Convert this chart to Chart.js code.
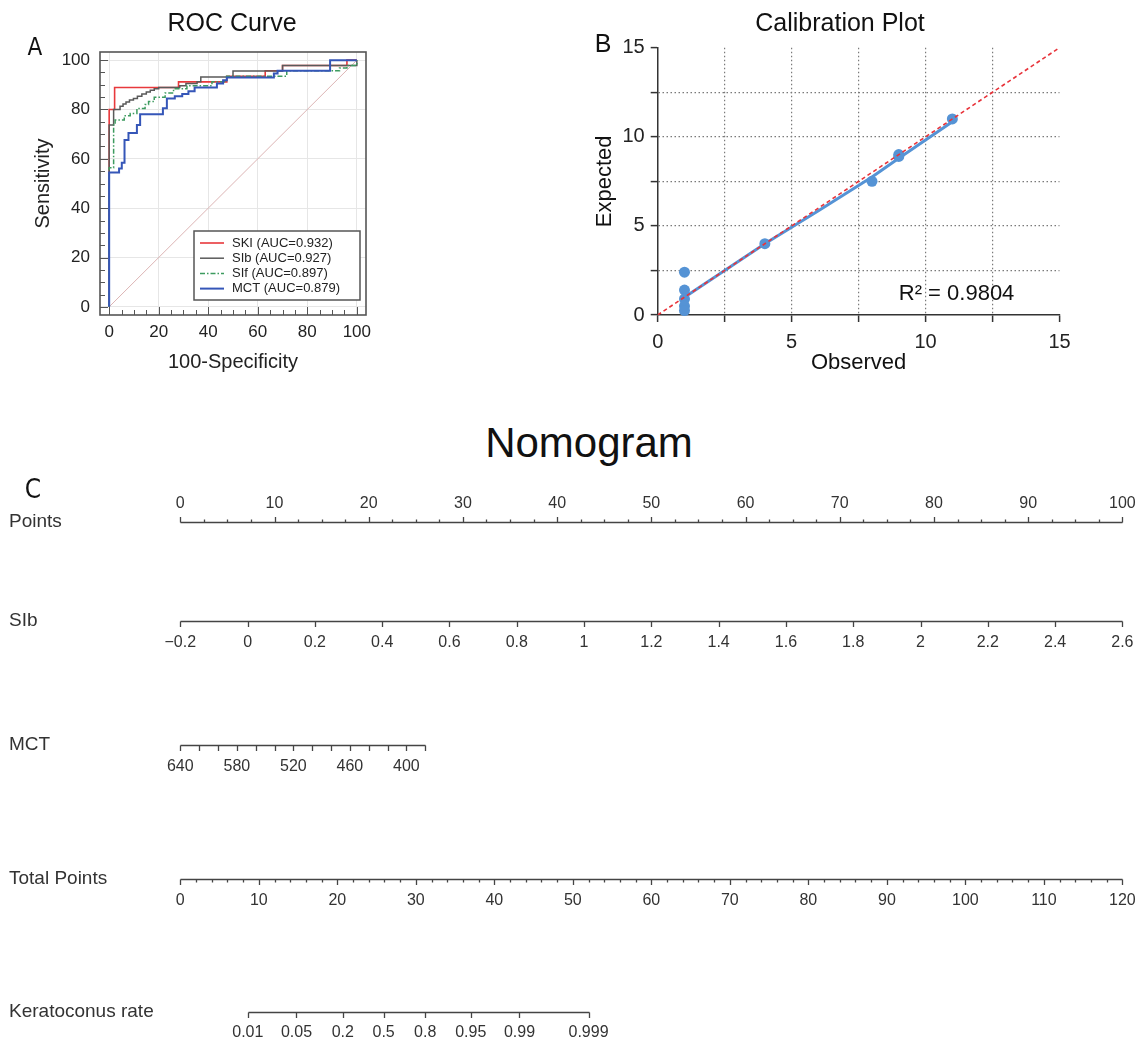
<!DOCTYPE html>
<html>
<head>
<meta charset="utf-8">
<script src="https://cdn.jsdelivr.net/npm/chart.js@4.4.1/dist/chart.umd.min.js"></script>
<style>
  body { margin: 0; background: #fff; }
  #page { position: relative; width: 1137px; height: 1040px; overflow: hidden; background: #fff;
          font-family: 'Liberation Sans', Arial, sans-serif; }
  canvas { position: absolute; }
  .txt { position: absolute; transform: translate(-50%, -50%); line-height: 1; white-space: nowrap; color: #111; }
  .letter { font-family: 'Liberation Sans Narrow', 'DejaVu Sans Condensed', 'Liberation Sans', sans-serif; }
</style>
</head>
<body>
<div id="page">
  <canvas id="rocChart" width="380" height="385" style="left:0;top:0"></canvas>
  <canvas id="calChart" width="577" height="385" style="left:560px;top:0"></canvas>
  <canvas id="nomoChart" width="1137" height="570" style="left:0;top:470px"></canvas>

  <div class="txt" style="left:232px;top:22px;font-size:25px">ROC Curve</div>
  <div class="txt" style="left:840px;top:22px;font-size:25px">Calibration Plot</div>
  <div class="txt" style="left:589px;top:443px;font-size:42px">Nomogram</div>
  <div class="txt letter" style="left:35px;top:47px;font-size:24px">A</div>
  <div class="txt" style="left:603px;top:43px;font-size:25px">B</div>
  <div class="txt letter" style="left:33px;top:489px;font-size:26px">C</div>
</div>

<script>
// ---- ROC curves: 100-Specificity (x) / Sensitivity (y), step corners ----
const skiFpr  = [0, 0, 2.2, 28, 47.5, 63, 70, 96, 100];
const skiSens = [0, 80, 88.9, 91.2, 93.5, 95.7, 97.8, 100, 100];

const sibFpr  = [0, 0, 1.8, 4.4, 5.6, 6.8, 8.2, 9.8, 11.4, 13.2, 15.0, 16.6, 18.2, 20, 28.5, 31, 35.5, 37, 50, 70, 100, 100];
const sibSens = [0, 73.7, 80, 81.3, 82.2, 83.0, 83.8, 84.5, 85.4, 86.3, 87.1, 87.8, 88.4, 88.9, 89.6, 90.5, 91.2, 93.2, 95.6, 97.8, 97.8, 100];

const sifFpr  = [0, 0, 1.8, 2.4, 6.1, 8.5, 11.2, 14.5, 15.9, 18.2, 22.6, 26, 31.4, 41.5, 47.4, 71.7, 93, 96, 100];
const sifSens = [0, 56.4, 73.7, 75.7, 77.5, 78.4, 80.4, 82, 83.2, 85, 86.7, 88.4, 89.6, 91.2, 93.5, 95.7, 96.8, 97.8, 100];

const mctFpr  = [0, 0, 4.0, 5.1, 6.2, 7.8, 11.2, 12.5, 21.7, 23.3, 26.5, 29.5, 32, 34.5, 43.5, 46, 47.5, 66.5, 68, 89.2, 100];
const mctSens = [0, 54.5, 56.1, 58.4, 67.6, 70.5, 73.7, 78.1, 80.5, 84.5, 85.4, 86.3, 87.4, 88.9, 90.5, 91.9, 93.0, 94.6, 95.7, 100, 100];

const rocLabels = ['SKI (AUC=0.932)', 'SIb (AUC=0.927)', 'SIf (AUC=0.897)', 'MCT (AUC=0.879)'];
const rocTicks = [0, 20, 40, 60, 80, 100];

// ---- calibration ----
const calObserved = [1, 1, 1, 1, 1, 4, 8, 9, 9, 11];
const calExpected = [2.4, 1.4, 0.9, 0.5, 0.25, 4.0, 7.5, 8.9, 9.0, 11.0];
const fitObserved = [1, 4, 6, 8, 9, 10, 11];
const fitExpected = [1.0, 4.0, 5.85, 7.75, 8.8, 9.82, 10.85];
const calTicks = [0, 2.5, 5, 7.5, 10, 12.5, 15];
const calTickLabels = ['0', '', '5', '', '10', '', '15'];
const rSquared = 'R\u00b2 = 0.9804';

// ---- nomogram ----
const nomoRows = ['Points', 'SIb', 'MCT', 'Total Points', 'Keratoconus rate'];
const pointsTicks = [0, 10, 20, 30, 40, 50, 60, 70, 80, 90, 100];
const sibTicks = [-0.2, 0, 0.2, 0.4, 0.6, 0.8, 1, 1.2, 1.4, 1.6, 1.8, 2, 2.2, 2.4, 2.6];
const sibLabels = ['\u22120.2', '0', '0.2', '0.4', '0.6', '0.8', '1', '1.2', '1.4', '1.6', '1.8', '2', '2.2', '2.4', '2.6'];
const mctTicks = [640, 620, 600, 580, 560, 540, 520, 500, 480, 460, 440, 420, 400, 380];
const mctLabels = ['640', '', '', '580', '', '', '520', '', '', '460', '', '', '400', ''];
const mctAtZeroPoints = 640, mctAtHundredPoints = -360;
const totalTicks = [0, 10, 20, 30, 40, 50, 60, 70, 80, 90, 100, 110, 120];
const rateLabels = ['0.01', '0.05', '0.2', '0.5', '0.8', '0.95', '0.99', '0.999'];
const rateTotalPoints = [8.6, 14.8, 20.7, 25.9, 31.2, 37.0, 43.2, 52.0];

// row layout of the nomogram (fraction of plot height)
const rowSpacing = [0, 0.202, 0.455, 0.729, 1];

Chart.defaults.font.family = '"Liberation Sans", Arial, sans-serif';

const pair = (xs, ys) => xs.map((x, i) => ({ x, y: ys[i] }));
const fixedTicks = values => scale => { scale.ticks = values.map(v => ({ value: v })); };

// ---------------- A: ROC ----------------
const rocFrame = {
    id: 'rocFrame',
    afterDatasetsDraw(chart) {
        const { ctx, chartArea: a, scales: { x, y } } = chart;
        ctx.save();
        ctx.strokeStyle = '#555';
        ctx.lineWidth = 1;
        ctx.beginPath();
        for (let v = 0; v <= 100; v += 5) {
            const len = v % 20 === 0 ? 8 : 5;
            const px = Math.round(x.getPixelForValue(v)) + 0.5;
            const py = Math.round(y.getPixelForValue(v)) + 0.5;
            ctx.moveTo(px, a.bottom); ctx.lineTo(px, a.bottom - len);
            ctx.moveTo(a.left, py); ctx.lineTo(a.left + len, py);
        }
        ctx.stroke();
        ctx.lineWidth = 1.6;
        ctx.strokeRect(a.left, a.top, a.width, a.height);

        // legend box
        const items = chart.data.datasets.filter(d => d.label);
        const w = 166, h = 69;
        const x0 = a.right - 6 - w, y0 = a.bottom - 15 - h;
        ctx.fillStyle = '#fff';
        ctx.fillRect(x0, y0, w, h);
        ctx.lineWidth = 1.5;
        ctx.strokeRect(x0, y0, w, h);
        ctx.font = '13px "Liberation Sans", Arial, sans-serif';
        ctx.textBaseline = 'middle';
        ctx.textAlign = 'left';
        items.forEach((d, i) => {
            const yy = y0 + 12 + i * 15.2;
            ctx.strokeStyle = d.borderColor;
            ctx.lineWidth = d.borderWidth;
            ctx.setLineDash(d.borderDash || []);
            ctx.beginPath();
            ctx.moveTo(x0 + 6, yy); ctx.lineTo(x0 + 30, yy);
            ctx.stroke();
            ctx.setLineDash([]);
            ctx.fillStyle = '#222';
            ctx.fillText(d.label, x0 + 38, yy);
        });
        ctx.restore();
    }
};

const rocSeries = [
    { data: pair(skiFpr, skiSens), color: '#e8393c', width: 1.6, dash: [], order: 4 },
    { data: pair(sibFpr, sibSens), color: '#5a5a5a', width: 1.5, dash: [], order: 3 },
    { data: pair(sifFpr, sifSens), color: '#3d9b5f', width: 1.5, dash: [5, 2, 1.5, 2], order: 2 },
    { data: pair(mctFpr, mctSens), color: '#3556b8', width: 2, dash: [], order: 1 }
];

new Chart(document.getElementById('rocChart'), {
    type: 'scatter',
    data: {
        datasets: [
            ...rocSeries.map((s, i) => ({
                label: rocLabels[i],
                data: s.data,
                showLine: true,
                stepped: true,
                borderColor: s.color,
                borderWidth: s.width,
                borderDash: s.dash,
                pointRadius: 0,
                order: s.order
            })),
            {
                data: pair([0, 100], [0, 100]),
                showLine: true,
                borderColor: '#dcb4b4',
                borderWidth: 1,
                pointRadius: 0,
                order: 5
            }
        ]
    },
    options: {
        animation: false,
        responsive: false,
        devicePixelRatio: 1,
        layout: { padding: { top: 52, right: 14, bottom: 0, left: 0 } },
        plugins: { legend: { display: false }, tooltip: { enabled: false } },
        scales: {
            x: {
                type: 'linear', min: -3.7, max: 103.7,
                afterBuildTicks: fixedTicks(rocTicks),
                afterFit: s => { s.height = 70; },
                grid: { color: '#e6e6e6', drawTicks: false },
                border: { display: false },
                ticks: { padding: 7, color: '#222', font: { size: 17 }, maxRotation: 0 },
                title: { display: true, text: '100-Specificity', color: '#222', font: { size: 20 }, padding: { top: 0, bottom: 11 } }
            },
            y: {
                type: 'linear', min: -3.3, max: 103.3,
                afterBuildTicks: fixedTicks(rocTicks),
                afterFit: s => { s.width = 100; },
                grid: { color: '#e6e6e6', drawTicks: false },
                border: { display: false },
                ticks: { padding: 10, color: '#222', font: { size: 17 } },
                title: { display: true, text: 'Sensitivity', color: '#222', font: { size: 20 }, padding: { top: 31, bottom: 0 } }
            }
        }
    },
    plugins: [rocFrame]
});

// ---------------- B: calibration ----------------
const calNote = {
    id: 'calNote',
    afterDatasetsDraw(chart) {
        const { ctx, scales: { x, y } } = chart;
        ctx.save();
        ctx.font = '22px "Liberation Sans", Arial, sans-serif';
        ctx.fillStyle = '#111';
        ctx.textAlign = 'left';
        ctx.textBaseline = 'middle';
        ctx.fillText(rSquared, x.getPixelForValue(9.0), y.getPixelForValue(1.2));
        ctx.restore();
    }
};

const edgeTick = ctx => ctx.index === 0 || ctx.index === calTicks.length - 1;
const calAxis = (title, extra) => Object.assign({
    type: 'linear', min: 0, max: 15,
    afterBuildTicks: fixedTicks(calTicks),
    grid: {
        color: ctx => edgeTick(ctx) ? 'rgba(0,0,0,0)' : '#7a7a7a',
        lineWidth: 1.2, tickColor: '#333', tickWidth: 1.5, tickLength: 7
    },
    border: { color: '#333', width: 1.5, dash: [1.5, 2.5] },
    ticks: { callback: (v, i) => calTickLabels[i], color: '#222', font: { size: 20 }, autoSkip: false, maxRotation: 0 },
    title: { display: true, text: title, color: '#111', font: { size: 22 } }
}, extra);

new Chart(document.getElementById('calChart'), {
    type: 'scatter',
    data: {
        datasets: [
            {
                data: pair([0, 15], [0, 15]),
                showLine: true, borderColor: '#e8333a', borderWidth: 1.6, borderDash: [4, 3],
                pointRadius: 0, order: 0
            },
            {
                data: pair(calObserved, calExpected),
                pointRadius: 5.5, pointBackgroundColor: '#5593d5', pointBorderWidth: 0,
                clip: false, order: 1
            },
            {
                data: pair(fitObserved, fitExpected),
                showLine: true, borderColor: '#5593d5', borderWidth: 3, pointRadius: 0, order: 2
            }
        ]
    },
    options: {
        animation: false,
        responsive: false,
        devicePixelRatio: 1,
        layout: { padding: { top: 47.7, right: 77.5, bottom: 0, left: 0 } },
        plugins: { legend: { display: false }, tooltip: { enabled: false } },
        scales: {
            x: calAxis('Observed', { afterFit: s => { s.height = 70; } }),
            y: calAxis('Expected', { afterFit: s => { s.width = 97.7; } })
        }
    },
    plugins: [calNote]
});
// axis-specific paddings for calibration
{
    const c = Chart.getChart('calChart');
    c.options.scales.x.ticks.padding = 8;
    c.options.scales.x.title.padding = { top: 0, bottom: 9 };
    c.options.scales.y.ticks.padding = 6;
    c.options.scales.y.title.padding = { top: 32, bottom: 0 };
    c.update();
}

// ---------------- C: nomogram ----------------
const nomoAxes = [
    { scale: 'xPoints', ticks: pointsTicks, labels: pointsTicks.map(String), minorStep: 2.5, side: -1, labelGap: 19 },
    { scale: 'xSib', ticks: sibTicks, labels: sibLabels, side: 1, labelGap: 21 },
    { scale: 'xMct', ticks: mctTicks, labels: mctLabels, side: 1, labelGap: 21 },
    { scale: 'xTotal', ticks: totalTicks, labels: totalTicks.map(String), minorStep: 2, side: 1, labelGap: 21 },
    { scale: 'xTotal', ticks: rateTotalPoints, labels: rateLabels, side: 1, labelGap: 20 }
];

const nomoAxesPlugin = {
    id: 'nomoAxes',
    afterDraw(chart) {
        const { ctx } = chart;
        const yScale = chart.scales.y;
        ctx.save();
        ctx.strokeStyle = '#444';
        ctx.fillStyle = '#333';
        ctx.lineWidth = 1.3;
        ctx.font = '16px "Liberation Sans", Arial, sans-serif';
        ctx.textAlign = 'center';
        ctx.textBaseline = 'middle';
        nomoAxes.forEach((ax, row) => {
            const sc = chart.scales[ax.scale];
            const y0 = Math.round(yScale.getPixelForValue(rowSpacing[row])) + 0.5;
            const first = ax.ticks[0], last = ax.ticks[ax.ticks.length - 1];
            const px = v => Math.round(sc.getPixelForValue(v)) + 0.5;
            ctx.beginPath();
            ctx.moveTo(px(first), y0);
            ctx.lineTo(px(last), y0);
            ax.ticks.forEach(v => { ctx.moveTo(px(v), y0); ctx.lineTo(px(v), y0 + ax.side * 5.5); });
            if (ax.minorStep) {
                for (let v = first; v < last; v += ax.minorStep) {
                    ctx.moveTo(px(v), y0);
                    ctx.lineTo(px(v), y0 + ax.side * 3);
                }
            }
            ctx.stroke();
            ax.labels.forEach((lab, i) => {
                if (lab) ctx.fillText(lab, sc.getPixelForValue(ax.ticks[i]), y0 + ax.side * ax.labelGap);
            });
        });
        ctx.restore();
    }
};

const hiddenX = (min, max, extra) => Object.assign({ axis: 'x', type: 'linear', position: 'bottom', display: false, min, max }, extra);

new Chart(document.getElementById('nomoChart'), {
    type: 'scatter',
    data: { datasets: [] },
    options: {
        animation: false,
        responsive: false,
        devicePixelRatio: 1,
        layout: { padding: { top: 52, right: 14.6, bottom: 28, left: 9 } },
        plugins: { legend: { display: false }, tooltip: { enabled: false } },
        scales: {
            y: {
                type: 'linear', min: 0, max: 1, reverse: true,
                afterBuildTicks: fixedTicks(rowSpacing),
                afterFit: s => { s.width = 171.3; },
                grid: { display: false },
                border: { display: false },
                ticks: { callback: (v, i) => nomoRows[i], crossAlign: 'far', color: '#333', font: { size: 19 }, autoSkip: false }
            },
            xPoints: hiddenX(0, 100),
            xSib: hiddenX(-0.2, 2.6),
            xMct: hiddenX(mctAtHundredPoints, mctAtZeroPoints, { reverse: true }),
            xTotal: hiddenX(0, 120)
        }
    },
    plugins: [nomoAxesPlugin]
});
</script>
</body>
</html>
